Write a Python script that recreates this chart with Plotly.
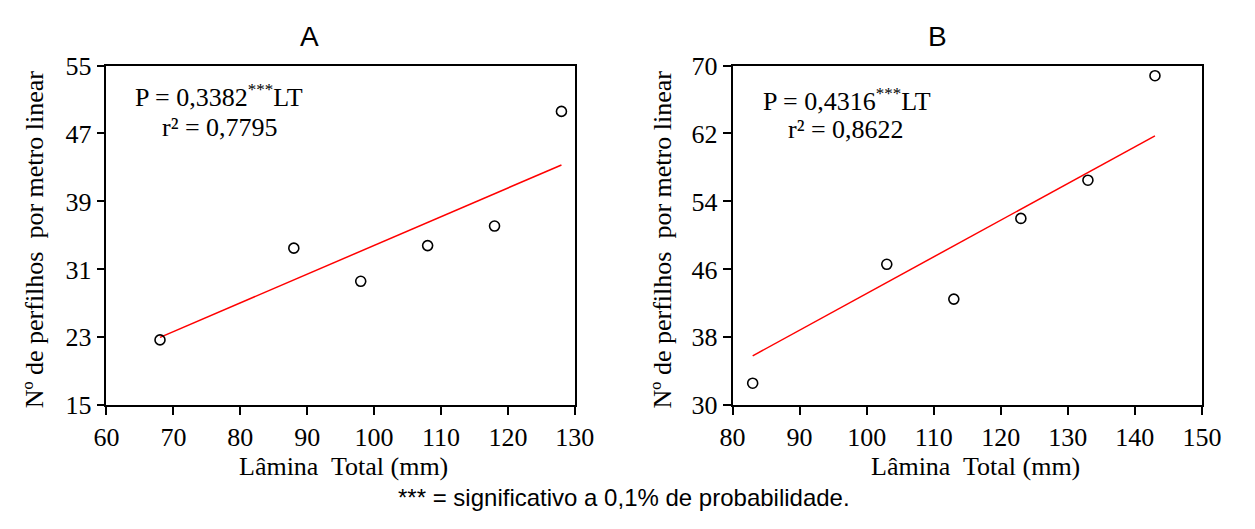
import plotly.graph_objects as go

# Lâmina total (mm) e nº de perfilhos por metro linear
lt_a = [68, 88, 98, 108, 118, 128]
perf_a = [22.7, 33.5, 29.6, 33.8, 36.1, 49.6]
lt_b = [83, 103, 113, 123, 133, 143]
perf_b = [32.6, 46.6, 42.5, 52.0, 56.5, 68.8]

# Coeficientes das regressões (P = b*LT)
coef_a = 0.3382
coef_b = 0.4316
r2_a = "0,7795"
r2_b = "0,8622"

xticks_a = [60, 70, 80, 90, 100, 110, 120, 130]
yticks_a = [15, 23, 31, 39, 47, 55]
xticks_b = [80, 90, 100, 110, 120, 130, 140, 150]
yticks_b = [30, 38, 46, 54, 62, 70]

SERIF = "Liberation Serif, Times New Roman, serif"
SANS = "Liberation Sans, Arial, sans-serif"

fig = go.Figure()

marker = dict(symbol="circle-open", size=10, color="black", line=dict(width=1.6, color="black"))

for lt, perf, coef, xa, ya in [(lt_a, perf_a, coef_a, "x", "y"), (lt_b, perf_b, coef_b, "x2", "y2")]:
    fit_x = [lt[0], lt[-1]]
    fit_y = [coef * v for v in fit_x]
    fig.add_trace(go.Scatter(x=fit_x, y=fit_y, mode="lines",
                             line=dict(color="#ff0000", width=1.5),
                             xaxis=xa, yaxis=ya, showlegend=False, hoverinfo="skip"))
    fig.add_trace(go.Scatter(x=lt, y=perf, mode="markers", marker=marker,
                             xaxis=xa, yaxis=ya, showlegend=False))

W, H = 1255, 529
ydom = [(H - 414) / H, (H - 54.5) / H]

axis_common = dict(showline=True, linecolor="black", linewidth=1.5, mirror=True,
                   ticks="outside", ticklen=8, tickwidth=1.5, tickcolor="black",
                   showgrid=False, zeroline=False,
                   tickfont=dict(family=SERIF, size=26, color="black"))

fig.update_layout(
    width=W, height=H,
    margin=dict(l=0, r=0, t=0, b=0),
    plot_bgcolor="white", paper_bgcolor="white",
    xaxis=dict(domain=[96 / W, 577 / W], range=[60, 130], tickvals=xticks_a, anchor="y", **axis_common),
    yaxis=dict(domain=ydom, range=[15, 55], tickvals=yticks_a, anchor="x", **axis_common),
    xaxis2=dict(domain=[739 / W, 1221 / W], range=[80, 150], tickvals=xticks_b, anchor="y2", **axis_common),
    yaxis2=dict(domain=ydom, range=[30, 70], tickvals=yticks_b, anchor="x2", **axis_common),
)


def px(x, y):
    return dict(x=x / W, y=1 - y / H, xref="paper", yref="paper")


def equation(coef):
    stars = "<sup><span style='font-size:17px'>***</span></sup>"
    return f"P = {str(coef).replace('.', ',')}{stars}LT"


ann = []
# Títulos dos painéis
for txt, cx in (("A", 305), ("B", 949)):
    ann.append(dict(text=txt, font=dict(family=SANS, size=28, color="black"), showarrow=False,
                    xanchor="center", yanchor="middle", **px(cx, 24)))
# Títulos dos eixos
ylab = "Nº de perfilhos  por metro linear"
xlab = "Lâmina  Total (mm)"
for cx in (23, 667):
    ann.append(dict(text=ylab, textangle=-90, font=dict(family=SERIF, size=26, color="black"),
                    showarrow=False, xanchor="center", yanchor="middle", **px(cx, 238)))
for cx in (339, 989):
    ann.append(dict(text=xlab, font=dict(family=SERIF, size=26, color="black"),
                    showarrow=False, xanchor="center", yanchor="middle", **px(cx, 479)))
# Equações
eq_font = dict(family=SERIF, size=26, color="black")
ann.append(dict(text=equation(coef_a), font=eq_font,
                showarrow=False, xanchor="left", yanchor="middle", **px(123, 87)))
ann.append(dict(text=f"r² = {r2_a}", font=eq_font,
                showarrow=False, xanchor="left", yanchor="middle", **px(151, 120)))
ann.append(dict(text=equation(coef_b), font=eq_font,
                showarrow=False, xanchor="left", yanchor="middle", **px(768, 91)))
ann.append(dict(text=f"r² = {r2_b}", font=eq_font,
                showarrow=False, xanchor="left", yanchor="middle", **px(794, 122)))
# Nota de rodapé
ann.append(dict(text="*** = significativo a 0,1% de probabilidade.",
                font=dict(family=SANS, size=24, color="black"), showarrow=False,
                xanchor="center", yanchor="middle", **px(627, 512)))

fig.update_layout(annotations=ann)
fig.write_html("out.html")
